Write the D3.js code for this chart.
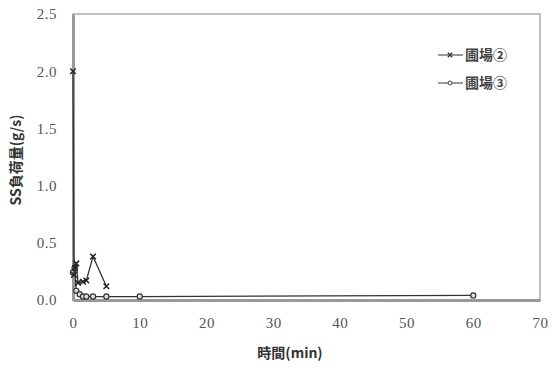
<!DOCTYPE html>
<html><head><meta charset="utf-8">
<script src="https://cdn.jsdelivr.net/npm/d3@7"></script>
<style>body{margin:0;background:#fff}
.tk text{font-family:"Liberation Serif","Times New Roman",serif !important;font-size:15px}</style>
</head><body>
<script>
const xTicks = [0,10,20,30,40,50,60,70];
const yTicks = [0.0,0.5,1.0,1.5,2.0,2.5];
const s2x = [0, 0.15, 0.3, 0.5, 0.75, 1.5, 2, 3, 5];
const s2y = [2.0, 0.22, 0.28, 0.32, 0.15, 0.16, 0.17, 0.38, 0.12];
const s3x = [0, 0.25, 0.5, 1, 1.5, 2, 3, 5, 10, 60];
const s3y = [0.24, 0.28, 0.08, 0.05, 0.03, 0.03, 0.03, 0.03, 0.03, 0.04];
const names = ["圃場②","圃場③"];

const W=552,H=368;
const svg=d3.select("body").append("svg").attr("width",W).attr("height",H);
const x=d3.scaleLinear().domain([0,70]).range([73,540]);
const y=d3.scaleLinear().domain([0,2.5]).range([300,14]);

svg.append("rect").attr("x",73).attr("y",14).attr("width",467).attr("height",286)
  .attr("fill","none").attr("stroke","#aaa").attr("stroke-width",1.5);

const xa=svg.append("g").attr("class","tk").attr("transform","translate(0,300)")
  .call(d3.axisBottom(x).tickValues(xTicks).tickSize(0).tickPadding(17).tickFormat(d3.format("d")));
const ya=svg.append("g").attr("class","tk").attr("transform","translate(73,0)")
  .call(d3.axisLeft(y).tickValues(yTicks).tickSize(0).tickPadding(16).tickFormat(d3.format(".1f")));
[xa,ya].forEach(a=>{
  a.attr("font-family","Liberation Serif").attr("font-size",15);
  a.select(".domain").attr("stroke","#999").attr("stroke-width",3);
  a.selectAll("text").attr("font-family","Liberation Serif").attr("fill","#555").style("letter-spacing","0.5px");
});

function series(xs,ys,marker){
  const pts=xs.map((v,i)=>[v,ys[i]]);
  svg.append("path").datum(pts).attr("fill","none").attr("stroke","#333").attr("stroke-width",1.3)
    .attr("d",d3.line().x(d=>x(d[0])).y(d=>y(d[1])));
  const g=svg.append("g");
  pts.forEach(d=>{
    if(marker==="x"){
      g.append("path").attr("d",d3.symbol(d3.symbolX,22)()).attr("transform",`translate(${x(d[0])},${y(d[1])})`)
        .attr("stroke","#222").attr("stroke-width",1.5).attr("fill","none");
    } else {
      g.append("circle").attr("cx",x(d[0])).attr("cy",y(d[1])).attr("r",2.6)
        .attr("fill","#ddd").attr("stroke","#333").attr("stroke-width",1.2);
    }
  });
}
series(s3x,s3y,"o");
series(s2x,s2y,"x");

const lg=svg.append("g");
[0,1].forEach(i=>{
  const yy=55+i*28;
  lg.append("line").attr("x1",438).attr("x2",463).attr("y1",yy).attr("y2",yy).attr("stroke","#555").attr("stroke-width",1.2);
  if(i===0){
    lg.append("path").attr("d",d3.symbol(d3.symbolX,14)()).attr("transform",`translate(450,${yy})`).attr("stroke","#333").attr("stroke-width",1.3);
  } else {
    lg.append("circle").attr("cx",450).attr("cy",yy).attr("r",2).attr("fill","#fff").attr("stroke","#444");
  }
  lg.append("text").attr("x",465).attr("y",yy+5).text(names[i])
    .attr("font-family","Noto Sans CJK JP").attr("font-weight","bold").attr("font-size",14).attr("fill","#444");
});

svg.append("text").attr("x",290).attr("y",358).attr("text-anchor","middle")
  .attr("font-family","Noto Sans CJK JP").attr("font-weight","bold").attr("font-size",14).attr("fill","#333")
  .text("時間(min)");
svg.append("text").attr("transform","translate(21,160) rotate(-90)").attr("text-anchor","middle")
  .attr("font-family","Noto Sans CJK JP").attr("font-weight","bold").attr("font-size",14).attr("fill","#333")
  .text("SS負荷量(g/s)");
</script>
</body></html>
